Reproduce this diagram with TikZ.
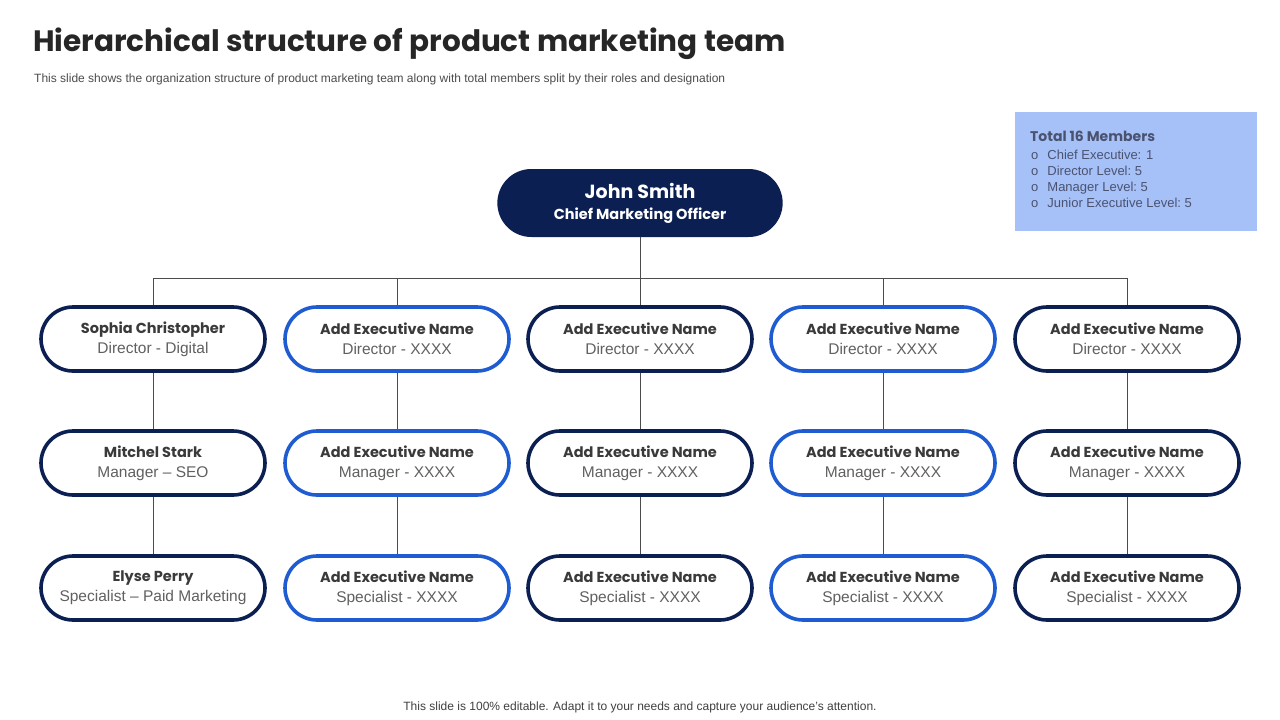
\documentclass[tikz,border=0pt]{standalone}
\usepackage{fontspec}
\setmainfont{Liberation Sans}
\newfontfamily\gothic{Poppins}
\usetikzlibrary{shapes.misc,positioning}
\definecolor{navy}{HTML}{0B1F52}
\definecolor{royal}{HTML}{1F5CD1}
\definecolor{paleblue}{HTML}{A6C1F8}
\definecolor{namegrey}{HTML}{3A3A3A}
\definecolor{rolegrey}{HTML}{606060}
\definecolor{legendgrey}{HTML}{4A5270}
\tikzset{
  pill/.style={rounded rectangle,line width=3.6pt,fill=white,
    minimum width=224pt,minimum height=64pt,align=center,inner sep=0pt,
    font=\fontsize{15.5}{20}\selectfont},
  darkpill/.style={pill,draw=navy},
  bluepill/.style={pill,draw=royal},
  wire/.style={draw=black!70,line width=0.8pt}
}
\newcommand{\who}[2]{{\gothic\bfseries\fontsize{14.5}{20}\selectfont\color{namegrey}#1}\\{\color{rolegrey}#2}}
\begin{document}
\begin{tikzpicture}[x=1pt,y=-1pt]
\useasboundingbox[fill=white] (0,0) rectangle (1280,720);
% Titel
\node[anchor=west,inner sep=0pt] (title) at (33,44)
  {\gothic\bfseries\fontsize{29.5}{34}\selectfont\color{black!85}Hierarchical structure of product marketing team};
\node[anchor=west,inner sep=0pt] (subtitle) at (34,79)
  {\fontsize{12}{14}\selectfont\color{black!70}This slide shows the organization structure of product marketing team along with total members split by their roles and designation};
% Legende
\node[fill=paleblue,minimum width=242pt,minimum height=119pt,inner sep=0pt] (legend) at (1136,171.5) {};
\node[anchor=north west,inner sep=0pt,align=left,text=legendgrey,font=\fontsize{13}{16}\selectfont] (members) at (1030,131)
  {{\gothic\bfseries\fontsize{14}{16}\selectfont Total 16 Members}\\[2pt]
   \hspace*{1pt}o\hspace{9pt}Chief Executive: 1\\
   \hspace*{1pt}o\hspace{9pt}Director Level:\ 5\\
   \hspace*{1pt}o\hspace{9pt}Manager Level:\ 5\\
   \hspace*{1pt}o\hspace{9pt}Junior Executive Level:\ 5};
% Chef
\node[rounded rectangle,fill=navy,minimum width=292pt,minimum height=68pt,align=center,text=white,
  font=\gothic\bfseries\fontsize{14.5}{22}\selectfont] (cmo) at (640,203)
  {{\fontsize{19}{22}\selectfont John Smith}\\[-1pt]Chief Marketing Officer};
\coordinate (bar) at (640,278);
% Spalten
\node[darkpill] (d1) at (153,339) {\who{Sophia Christopher}{Director - Digital}};
\node[darkpill] (m1) at (153,463) {\who{Mitchel Stark}{Manager -- SEO}};
\node[darkpill] (s1) at (153,588) {\who{Elyse Perry}{Specialist -- Paid Marketing}};
\foreach \i/\x/\sty in {2/397/bluepill,3/640/darkpill,4/883/bluepill,5/1127/darkpill}{
  \node[\sty] (d\i) at (\x,339) {\who{Add Executive Name}{Director - XXXX}};
  \node[\sty] (m\i) at (\x,463) {\who{Add Executive Name}{Manager - XXXX}};
  \node[\sty] (s\i) at (\x,588) {\who{Add Executive Name}{Specialist - XXXX}};
}
% Linien
\draw[wire] (cmo.south) -- (bar);
\draw[wire] (d1.north |- bar) -- (d5.north |- bar);
\foreach \i in {1,...,5}{
  \draw[wire] (d\i.north |- bar) -- (d\i.north);
  \draw[wire] (d\i.south) -- (m\i.north);
  \draw[wire] (m\i.south) -- (s\i.north);
}
% Fusszeile
\node[inner sep=0pt] (footer) at (640,707)
  {\fontsize{12}{14}\selectfont\color{black!75}This slide is 100\% editable. Adapt it to your needs and capture your audience's attention.};
\end{tikzpicture}
\end{document}
